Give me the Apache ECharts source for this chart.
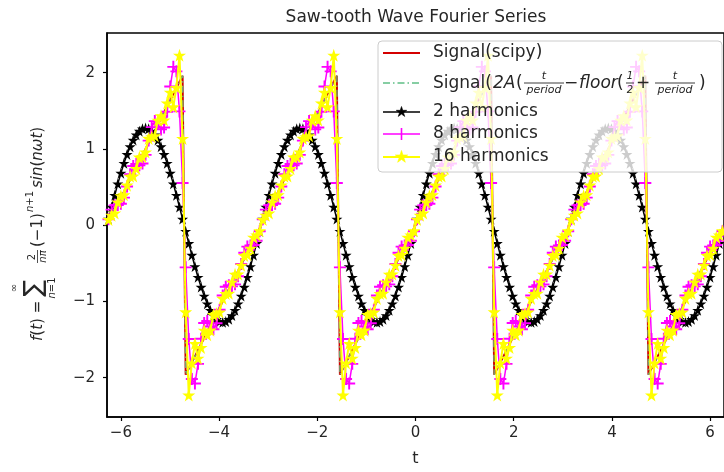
<!DOCTYPE html>
<html><head><meta charset="utf-8">
<script src="https://cdn.jsdelivr.net/npm/echarts@6/dist/echarts.min.js"></script>
<style>html,body{margin:0;padding:0;background:#fff}#c{width:724px;height:472px}</style>
</head><body><div id="c"></div>
<script>
// ---------------- data ----------------
const tValues = [-6.2518,-6.1889,-6.1261,-6.0633,-6.0004,-5.9376,-5.8748,-5.8119,-5.7491,-5.6863,-5.6235,-5.5606,-5.4978,-5.4350,-5.3721,-5.3093,-5.2465,-5.1836,-5.1208,-5.0580,-4.9951,-4.9323,-4.8695,-4.8066,-4.7438,-4.6810,-4.6181,-4.5553,-4.4925,-4.4296,-4.3668,-4.3040,-4.2412,-4.1783,-4.1155,-4.0527,-3.9898,-3.9270,-3.8642,-3.8013,-3.7385,-3.6757,-3.6128,-3.5500,-3.4872,-3.4243,-3.3615,-3.2987,-3.2358,-3.1730,-3.1102,-3.0473,-2.9845,-2.9217,-2.8588,-2.7960,-2.7332,-2.6704,-2.6075,-2.5447,-2.4819,-2.4190,-2.3562,-2.2934,-2.2305,-2.1677,-2.1049,-2.0420,-1.9792,-1.9164,-1.8535,-1.7907,-1.7279,-1.6650,-1.6022,-1.5394,-1.4765,-1.4137,-1.3509,-1.2881,-1.2252,-1.1624,-1.0996,-1.0367,-0.9739,-0.9111,-0.8482,-0.7854,-0.7226,-0.6597,-0.5969,-0.5341,-0.4712,-0.4084,-0.3456,-0.2827,-0.2199,-0.1571,-0.0942,-0.0314,
0.0314,0.0942,0.1571,0.2199,0.2827,0.3456,0.4084,0.4712,0.5341,0.5969,0.6597,0.7226,0.7854,0.8482,0.9111,0.9739,1.0367,1.0996,1.1624,1.2252,1.2881,1.3509,1.4137,1.4765,1.5394,1.6022,1.6650,1.7279,1.7907,1.8535,1.9164,1.9792,2.0420,2.1049,2.1677,2.2305,2.2934,2.3562,2.4190,2.4819,2.5447,2.6075,2.6704,2.7332,2.7960,2.8588,2.9217,2.9845,3.0473,3.1102,3.1730,3.2358,3.2987,3.3615,3.4243,3.4872,3.5500,3.6128,3.6757,3.7385,3.8013,3.8642,3.9270,3.9898,4.0527,4.1155,4.1783,4.2412,4.3040,4.3668,4.4296,4.4925,4.5553,4.6181,4.6810,4.7438,4.8066,4.8695,4.9323,4.9951,5.0580,5.1208,5.1836,5.2465,5.3093,5.3721,5.4350,5.4978,5.5606,5.6235,5.6863,5.7491,5.8119,5.8748,5.9376,6.0004,6.0633,6.1261,6.1889,6.2518];

const signalValues = [
0.04,0.12,0.2,0.28,0.36,0.44,0.52,0.6,0.68,0.76,0.84,0.92,1,1.08,1.16,1.24,1.32,1.4,1.48,1.56,1.64,1.72,1.8,1.88,1.96,-1.96,-1.88,-1.8,-1.72,-1.64,-1.56,-1.48,-1.4,-1.32,-1.24,-1.16,-1.08,-1,-0.92,-0.84,-0.76,-0.68,-0.6,-0.52,-0.44,-0.36,-0.28,-0.2,-0.12,-0.04,
0.04,0.12,0.2,0.28,0.36,0.44,0.52,0.6,0.68,0.76,0.84,0.92,1,1.08,1.16,1.24,1.32,1.4,1.48,1.56,1.64,1.72,1.8,1.88,1.96,-1.96,-1.88,-1.8,-1.72,-1.64,-1.56,-1.48,-1.4,-1.32,-1.24,-1.16,-1.08,-1,-0.92,-0.84,-0.76,-0.68,-0.6,-0.52,-0.44,-0.36,-0.28,-0.2,-0.12,-0.04,
0.04,0.12,0.2,0.28,0.36,0.44,0.52,0.6,0.68,0.76,0.84,0.92,1,1.08,1.16,1.24,1.32,1.4,1.48,1.56,1.64,1.72,1.8,1.88,1.96,-1.96,-1.88,-1.8,-1.72,-1.64,-1.56,-1.48,-1.4,-1.32,-1.24,-1.16,-1.08,-1,-0.92,-0.84,-0.76,-0.68,-0.6,-0.52,-0.44,-0.36,-0.28,-0.2,-0.12,-0.04,
0.04,0.12,0.2,0.28,0.36,0.44,0.52,0.6,0.68,0.76,0.84,0.92,1,1.08,1.16,1.24,1.32,1.4,1.48,1.56,1.64,1.72,1.8,1.88,1.96,-1.96,-1.88,-1.8,-1.72,-1.64,-1.56,-1.48,-1.4,-1.32,-1.24,-1.16,-1.08,-1,-0.92,-0.84,-0.76,-0.68,-0.6,-0.52,-0.44,-0.36,-0.28,-0.2,-0.12,-0.04];

const harm2Values = [
0.080,0.239,0.393,0.542,0.682,0.812,0.928,1.030,1.116,1.184,1.233,1.263,1.273,1.263,1.233,1.184,1.116,1.030,0.928,0.812,0.682,0.542,0.393,0.239,0.080,-0.080,-0.239,-0.393,-0.542,-0.682,-0.812,-0.928,-1.030,-1.116,-1.184,-1.233,-1.263,-1.273,-1.263,-1.233,-1.184,-1.116,-1.030,-0.928,-0.812,-0.682,-0.542,-0.393,-0.239,-0.080,
0.080,0.239,0.393,0.542,0.682,0.812,0.928,1.030,1.116,1.184,1.233,1.263,1.273,1.263,1.233,1.184,1.116,1.030,0.928,0.812,0.682,0.542,0.393,0.239,0.080,-0.080,-0.239,-0.393,-0.542,-0.682,-0.812,-0.928,-1.030,-1.116,-1.184,-1.233,-1.263,-1.273,-1.263,-1.233,-1.184,-1.116,-1.030,-0.928,-0.812,-0.682,-0.542,-0.393,-0.239,-0.080,
0.080,0.239,0.393,0.542,0.682,0.812,0.928,1.030,1.116,1.184,1.233,1.263,1.273,1.263,1.233,1.184,1.116,1.030,0.928,0.812,0.682,0.542,0.393,0.239,0.080,-0.080,-0.239,-0.393,-0.542,-0.682,-0.812,-0.928,-1.030,-1.116,-1.184,-1.233,-1.263,-1.273,-1.263,-1.233,-1.184,-1.116,-1.030,-0.928,-0.812,-0.682,-0.542,-0.393,-0.239,-0.080,
0.080,0.239,0.393,0.542,0.682,0.812,0.928,1.030,1.116,1.184,1.233,1.263,1.273,1.263,1.233,1.184,1.116,1.030,0.928,0.812,0.682,0.542,0.393,0.239,0.080,-0.080,-0.239,-0.393,-0.542,-0.682,-0.812,-0.928,-1.030,-1.116,-1.184,-1.233,-1.263,-1.273,-1.263,-1.233,-1.184,-1.116,-1.030,-0.928,-0.812,-0.682,-0.542,-0.393,-0.239,-0.080];

const harm8Values = [
0.079,0.204,0.260,0.265,0.281,0.361,0.508,0.669,0.776,0.802,0.787,0.808,0.922,1.109,1.286,1.365,1.328,1.256,1.282,1.488,1.818,2.076,2.017,1.492,0.553,-0.553,-1.492,-2.017,-2.076,-1.818,-1.488,-1.282,-1.256,-1.328,-1.365,-1.286,-1.109,-0.922,-0.808,-0.787,-0.802,-0.776,-0.669,-0.508,-0.361,-0.281,-0.265,-0.260,-0.204,-0.079,
0.079,0.204,0.260,0.265,0.281,0.361,0.508,0.669,0.776,0.802,0.787,0.808,0.922,1.109,1.286,1.365,1.328,1.256,1.282,1.488,1.818,2.076,2.017,1.492,0.553,-0.553,-1.492,-2.017,-2.076,-1.818,-1.488,-1.282,-1.256,-1.328,-1.365,-1.286,-1.109,-0.922,-0.808,-0.787,-0.802,-0.776,-0.669,-0.508,-0.361,-0.281,-0.265,-0.260,-0.204,-0.079,
0.079,0.204,0.260,0.265,0.281,0.361,0.508,0.669,0.776,0.802,0.787,0.808,0.922,1.109,1.286,1.365,1.328,1.256,1.282,1.488,1.818,2.076,2.017,1.492,0.553,-0.553,-1.492,-2.017,-2.076,-1.818,-1.488,-1.282,-1.256,-1.328,-1.365,-1.286,-1.109,-0.922,-0.808,-0.787,-0.802,-0.776,-0.669,-0.508,-0.361,-0.281,-0.265,-0.260,-0.204,-0.079,
0.079,0.204,0.260,0.265,0.281,0.361,0.508,0.669,0.776,0.802,0.787,0.808,0.922,1.109,1.286,1.365,1.328,1.256,1.282,1.488,1.818,2.076,2.017,1.492,0.553,-0.553,-1.492,-2.017,-2.076,-1.818,-1.488,-1.282,-1.256,-1.328,-1.365,-1.286,-1.109,-0.922,-0.808,-0.787,-0.802,-0.776,-0.669,-0.508,-0.361,-0.281,-0.265,-0.260,-0.204,-0.079];

const harm16Values = [
0.074,0.129,0.159,0.302,0.386,0.398,0.525,0.641,0.644,0.744,0.892,0.897,0.960,1.138,1.159,1.173,1.376,1.436,1.378,1.603,1.744,1.551,1.806,2.228,1.137,-1.137,-2.228,-1.806,-1.551,-1.744,-1.603,-1.378,-1.436,-1.376,-1.173,-1.159,-1.138,-0.960,-0.897,-0.892,-0.744,-0.644,-0.641,-0.525,-0.398,-0.386,-0.302,-0.159,-0.129,-0.074,
0.074,0.129,0.159,0.302,0.386,0.398,0.525,0.641,0.644,0.744,0.892,0.897,0.960,1.138,1.159,1.173,1.376,1.436,1.378,1.603,1.744,1.551,1.806,2.228,1.137,-1.137,-2.228,-1.806,-1.551,-1.744,-1.603,-1.378,-1.436,-1.376,-1.173,-1.159,-1.138,-0.960,-0.897,-0.892,-0.744,-0.644,-0.641,-0.525,-0.398,-0.386,-0.302,-0.159,-0.129,-0.074,
0.074,0.129,0.159,0.302,0.386,0.398,0.525,0.641,0.644,0.744,0.892,0.897,0.960,1.138,1.159,1.173,1.376,1.436,1.378,1.603,1.744,1.551,1.806,2.228,1.137,-1.137,-2.228,-1.806,-1.551,-1.744,-1.603,-1.378,-1.436,-1.376,-1.173,-1.159,-1.138,-0.960,-0.897,-0.892,-0.744,-0.644,-0.641,-0.525,-0.398,-0.386,-0.302,-0.159,-0.129,-0.074,
0.074,0.129,0.159,0.302,0.386,0.398,0.525,0.641,0.644,0.744,0.892,0.897,0.960,1.138,1.159,1.173,1.376,1.436,1.378,1.603,1.744,1.551,1.806,2.228,1.137,-1.137,-2.228,-1.806,-1.551,-1.744,-1.603,-1.378,-1.436,-1.376,-1.173,-1.159,-1.138,-0.960,-0.897,-0.892,-0.744,-0.644,-0.641,-0.525,-0.398,-0.386,-0.302,-0.159,-0.129,-0.074];

const xTicks = [-6, -4, -2, 0, 2, 4, 6];
const yTicks = [-2, -1, 0, 1, 2];
const xRange = [-6.2832, 6.2832];
const yRange = [-2.515, 2.52];
const seriesNames = ['Signal(scipy)', 'Signal(2A(t/period - floor(1/2 + t/period))', '2 harmonics', '8 harmonics', '16 harmonics'];
const titleText = 'Saw-tooth Wave Fourier Series';

// ---------------- chart ----------------
const FONT = '"DejaVu Sans", sans-serif';
const TXT = '#262626';
const STAR = 'path://M50,2 L61.2,36.4 L97.6,36.4 L68.2,57.8 L79.4,92.2 L50,71 L20.6,92.2 L31.8,57.8 L2.4,36.4 L38.8,36.4 Z';
const PLUS = 'path://M42,0 H58 V42 H100 V58 H58 V100 H42 V58 H0 V42 H42 Z';
const COLORS = {red: '#d40000', green: '#5fbf85', black: '#000000', magenta: '#ff00ff', yellow: '#ffff00'};
const pairs = v => tValues.map((t, i) => [t, v[i]]);
const minus = v => String(v).replace('-', '\u2212');

function starPts(cx, cy, R) {
  const pts = [];
  for (let k = 0; k < 10; k++) {
    const r = k % 2 === 0 ? R : R * 0.382;
    const a = -Math.PI / 2 + k * Math.PI / 5;
    pts.push([cx + r * Math.cos(a), cy + r * Math.sin(a)]);
  }
  return pts;
}

const chart = echarts.init(document.getElementById('c'), null, {renderer: 'canvas'});

const legendX0 = 383, legendX1 = 420, legendTextX = 433;
const legY = [53, 83, 112, 134, 157];
const LZ = 100;
function txt(x, y, text, size, align) {
  return {type: 'text', x: x, y: y, z: LZ + 2, style: {text: text, fill: TXT, font: size + 'px ' + FONT, textAlign: align || 'left', textVerticalAlign: 'middle'}};
}
function itxt(x, y, text, size, align) {
  return {type: 'text', x: x, y: y, z: LZ + 2, style: {text: text, fill: TXT, font: 'italic ' + size + 'px ' + FONT, textAlign: align || 'left', textVerticalAlign: 'middle'}};
}
function hline(x1, x2, y, color, w, dash) {
  return {type: 'line', z: LZ + 1, shape: {x1: x1, y1: y, x2: x2, y2: y}, style: {stroke: color, lineWidth: w, lineDash: dash || null}};
}
function frac(cx, cy, num, den, size, w) {
  return [
    itxt(cx, cy - 7, num, size, 'center'),
    hline(cx - w / 2, cx + w / 2, cy, TXT, 0.9),
    itxt(cx, cy + 7, den, size, 'center')
  ];
}

const L2 = legY[1] + 1;
const legendEls = [
  {type: 'rect', z: LZ, shape: {x: 378, y: 41, width: 344, height: 131, r: 4}, style: {fill: 'rgba(255,255,255,0.8)', stroke: '#cccccc', lineWidth: 1}},
  hline(legendX0, legendX1, legY[0], COLORS.red, 2),
  txt(legendTextX, legY[0], seriesNames[0], 17),
  hline(legendX0, legendX1, legY[1], COLORS.green, 1.5, [7, 3, 1.5, 3]),
  txt(legendTextX, L2, 'Signal(', 17),
  itxt(493, L2, '2A', 17),
  txt(516, L2, '(', 17),
  ...frac(544, legY[1], 't', 'period', 11, 40),
  txt(571, L2, '\u2212', 17, 'center'),
  itxt(579, L2, 'floor', 17),
  txt(617, L2, '(', 17),
  ...frac(630, legY[1], '1', '2', 10, 8),
  txt(643, L2, '+', 17, 'center'),
  ...frac(675, legY[1], 't', 'period', 11, 40),
  txt(699, L2, ')', 17),
  hline(legendX0, legendX1, legY[2], COLORS.black, 1.5),
  {type: 'polygon', z: LZ + 2, shape: {points: starPts(401.5, legY[2], 5.5)}, style: {fill: '#000', stroke: '#000', lineWidth: 0.6}},
  txt(legendTextX, legY[2], seriesNames[2], 17),
  hline(legendX0, legendX1, legY[3], COLORS.magenta, 1.5),
  {type: 'line', z: LZ + 2, shape: {x1: 401.5, y1: legY[3] - 6, x2: 401.5, y2: legY[3] + 6}, style: {stroke: COLORS.magenta, lineWidth: 1.6}},
  txt(legendTextX, legY[3], seriesNames[3], 17),
  hline(legendX0, legendX1, legY[4], COLORS.yellow, 2),
  {type: 'polygon', z: LZ + 2, shape: {points: starPts(401.5, legY[4], 6.5)}, style: {fill: COLORS.yellow, stroke: COLORS.yellow, lineWidth: 0.6}},
  txt(legendTextX, legY[4], seriesNames[4], 17)
];

// y-axis label (mathtext style), drawn rotated
const ylabelGroup = {
  type: 'group', x: 43, y: 341, rotation: Math.PI / 2, z: LZ,
  children: [
    {type: 'text', x: 0, y: -5, style: {text: '{i|f}(' + '{i|t}) =', fill: TXT, font: '15px ' + FONT, textVerticalAlign: 'middle', rich: {i: {fontStyle: 'italic', fontSize: 15, fontFamily: FONT, fill: TXT}}}},
    {type: 'text', x: 53, y: -9, style: {text: '\u2211', fill: TXT, font: '25px ' + FONT, textAlign: 'center', textVerticalAlign: 'middle'}},
    {type: 'text', x: 53, y: -29, style: {text: '\u221e', fill: TXT, font: '10px ' + FONT, textAlign: 'center', textVerticalAlign: 'middle'}},
    {type: 'text', x: 53, y: 9, style: {text: '{i|n}=1', fill: TXT, font: '10px ' + FONT, textAlign: 'center', textVerticalAlign: 'middle', rich: {i: {fontStyle: 'italic', fontSize: 10, fontFamily: FONT, fill: TXT}}}},
    {type: 'text', x: 84, y: -11, style: {text: '2', fill: TXT, font: '10px ' + FONT, textAlign: 'center', textVerticalAlign: 'middle'}},
    {type: 'line', shape: {x1: 78, y1: -5.5, x2: 91, y2: -5.5}, style: {stroke: TXT, lineWidth: 0.8}},
    {type: 'text', x: 84.5, y: 0, style: {text: 'n\u03c0', fill: TXT, font: 'italic 10px ' + FONT, textAlign: 'center', textVerticalAlign: 'middle'}},
    {type: 'text', x: 94, y: -5, style: {text: '(\u22121)', fill: TXT, font: '15px ' + FONT, textVerticalAlign: 'middle'}},
    {type: 'text', x: 129, y: -13, style: {text: '{i|n}+1', fill: TXT, font: '10px ' + FONT, textVerticalAlign: 'middle', rich: {i: {fontStyle: 'italic', fontSize: 10, fontFamily: FONT, fill: TXT}}}},
    {type: 'text', x: 153, y: -5, style: {text: '{i|sin}(' + '{i|n\u03c9t})', fill: TXT, font: '15px ' + FONT, textVerticalAlign: 'middle', rich: {i: {fontStyle: 'italic', fontSize: 15, fontFamily: FONT, fill: TXT}}}}
  ]
};

const option = {
  animation: false,
  backgroundColor: '#ffffff',
  grid: {left: 107, right: -5, top: 33, bottom: 42, show: true, borderColor: '#000', borderWidth: 1.5, backgroundColor: 'rgba(0,0,0,0)', containLabel: false},
  xAxis: {
    type: 'value', min: xRange[0], max: xRange[1],
    axisLine: {show: true, onZero: false, lineStyle: {color: '#000', width: 1.5}},
    axisTick: {show: true, inside: false, length: 4, customValues: xTicks, lineStyle: {color: '#000', width: 1.2}},
    axisLabel: {show: true, customValues: xTicks, fontFamily: FONT, fontSize: 15, color: TXT, margin: 9, formatter: minus},
    splitLine: {show: false},
    name: 't', nameLocation: 'middle', nameGap: 34, nameTextStyle: {fontFamily: FONT, fontSize: 16, color: TXT}
  },
  yAxis: {
    type: 'value', min: yRange[0], max: yRange[1],
    axisLine: {show: true, onZero: false, lineStyle: {color: '#000', width: 1.5}},
    axisTick: {show: true, inside: false, length: 4, customValues: yTicks, lineStyle: {color: '#000', width: 1.2}},
    axisLabel: {show: true, customValues: yTicks, fontFamily: FONT, fontSize: 15, color: TXT, margin: 12, formatter: minus},
    splitLine: {show: false}
  },
  series: [
    {name: seriesNames[0], type: 'line', data: pairs(signalValues), symbol: 'none', lineStyle: {color: COLORS.red, width: 2}, itemStyle: {color: COLORS.red}, z: 2},
    {name: seriesNames[1], type: 'line', data: pairs(signalValues), symbol: 'none', lineStyle: {color: COLORS.green, width: 1.5, type: [7, 3, 1.5, 3], opacity: 0.85}, itemStyle: {color: COLORS.green}, z: 3},
    {name: seriesNames[2], type: 'line', data: pairs(harm2Values), symbol: STAR, symbolSize: 11, showSymbol: true, lineStyle: {color: COLORS.black, width: 1.5}, itemStyle: {color: COLORS.black}, z: 4},
    {name: seriesNames[3], type: 'line', data: pairs(harm8Values), symbol: PLUS, symbolSize: 12, showSymbol: true, lineStyle: {color: COLORS.magenta, width: 1.5}, itemStyle: {color: COLORS.magenta}, z: 5},
    {name: seriesNames[4], type: 'line', data: pairs(harm16Values), symbol: STAR, symbolSize: 13, showSymbol: true, lineStyle: {color: COLORS.yellow, width: 2}, itemStyle: {color: COLORS.yellow}, z: 6}
  ],
  graphic: [
    {type: 'text', x: 416, y: 18, z: LZ, style: {text: titleText, fill: TXT, font: '17px ' + FONT, textAlign: 'center', textVerticalAlign: 'middle'}},
    ylabelGroup,
    ...legendEls
  ]
};
chart.setOption(option);
</script>
</body></html>
